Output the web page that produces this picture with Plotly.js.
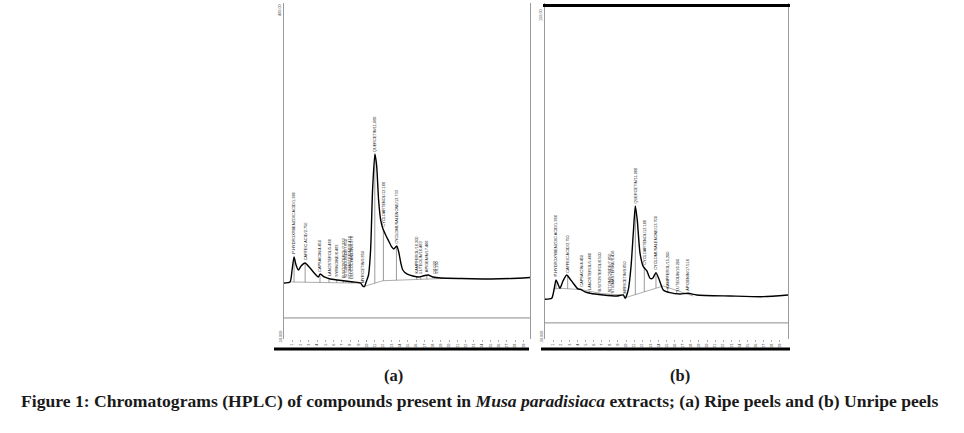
<!DOCTYPE html>
<html>
<head>
<meta charset="utf-8">
<script src="https://cdn.plot.ly/plotly-3.0.1.min.js"></script>
<style>
  html, body { margin: 0; padding: 0; background: #ffffff; }
  #chart { width: 964px; height: 433px; }
</style>
</head>
<body>
<div id="chart"></div>
<script>
// ---- data (time in min, detector response) ----
const ripeTime   = [0, 0.73, 0.98, 1.22, 1.46, 1.74, 2.07, 2.56, 3.05, 3.66, 4.15, 4.39, 4.88, 5.61, 6.46, 7.44, 8.41, 9.27, 9.55, 9.75, 9.95, 10.24, 10.49, 10.73, 11.01, 11.22, 11.46, 11.71, 11.95, 12.32, 12.68, 13.05, 13.29, 13.66, 13.9, 14.15, 14.39, 14.88, 15.61, 16.34, 16.83, 17.44, 18.05, 19.02, 21.46, 25.1, 27.56, 29.8];
const ripeSignal = [34.2, 35.5, 51.3, 68.4, 57.9, 51.3, 56.6, 60.5, 55.3, 47.4, 42.1, 46.1, 42.1, 39.5, 38.2, 36.8, 35.5, 34.2, 30, 29.5, 35.5, 44.7, 77.6, 156.6, 204, 189, 143.4, 117.1, 106.6, 97.4, 89.5, 81.6, 78.9, 82.9, 75, 60.5, 51.3, 46.1, 43.4, 42.1, 43.4, 44.7, 42.1, 40.8, 40.1, 39.5, 40.1, 41.4];
const ripeBaseTime  = [[0.9, 9.4], [9.6, 12.0, 20.1]];
const ripeBaseValue = [[35.5, 34.0], [29.3, 37.2, 40.4]];
const ripePeakName = ['P-HYDROXYBENZOIC ACID/1.366', 'CAFFEIC ACID/2.750', 'CAPSAICIN/4.450', 'LANOSTEROL/5.466', 'SYRINGINE/6.483',
  'B-SITOSTEROL/7.333', 'SITOINDOSIDE/7.850', 'STIGMASTERINE/8.416', 'LEUCOCYANIDIN/8.978', 'MYRICETIN/9.850', 'QUERCETIN/11.066',
  'CYCLOARTENOL/12.166', 'CYCLOMUSALENONE/13.733', 'KAMPFEROL/16.200', 'LUTEOLIN/16.483', 'APIGENIN/17.466', '/18.022', '/18.150'];
const ripePeakTime = [1.22, 2.56, 4.36, 5.45, 6.39, 7.19, 7.52, 7.84, 8.16, 9.6, 11.0, 12.04, 13.62, 16.08, 16.57, 17.3, 18.2, 18.5];

const unripeTime   = [0, 0.83, 1.11, 1.36, 1.6, 1.85, 2.22, 2.68, 3.09, 3.49, 4.07, 4.44, 4.94, 5.56, 7.2, 8.85, 9.67, 9.9, 10.28, 10.62, 10.9, 11.15, 11.39, 11.73, 12.14, 12.56, 12.96, 13.3, 13.7, 14.11, 14.6, 15.43, 16.67, 17.69, 18.73, 22.84, 26.95, 30];
const unripeSignal = [-4.82, -4.29, 0.09, 5.37, 3.26, 0.99, 4.84, 8.0, 5.9, 3.63, 0.62, 0.35, -0.97, -1.65, -2.55, -3.08, -2.55, -4.3, 0.09, 12.4, 30.0, 44.4, 37.0, 19.5, 12.4, 10.3, 6.27, 6.27, 9.22, 5.37, 0.09, -1.34, -2.02, -1.65, -2.55, -3.08, -3.45, -2.55];
const unripeBaseTime  = [[1.0, 1.85, 4.4, 7.0, 9.7], [9.9, 14.6, 18.3]];
const unripeBaseValue = [[0.5, 0.99, 0.3, -1.8, -2.6], [-4.0, 2.2, -3.1]];
const unripePeakName = ['P-HYDROXYBENZOIC ACID/1.366', 'CAFFEIC ACID/2.750', 'CAPSAICIN/4.450', 'LANOSTEROL/5.466', 'B-SITOSTEROL/6.500',
  'SITOINDOSIDE/7.850', 'STIGMASTERINE/8.416', 'MYRICETIN/9.850', 'QUERCETIN/11.066', 'CYCLOARTENOL/12.166', 'CYCLOMUSALENONE/13.700',
  'KAMPFEROL/15.200', 'LUTEOLIN/16.200', 'APIGENIN/17.516'];
const unripePeakTime = [1.36, 2.8, 4.4, 5.47, 6.67, 7.94, 8.27, 9.79, 11.15, 12.26, 13.7, 15.15, 16.26, 17.57];

const minuteTicks = [1, 2, 3, 4, 5, 6, 7, 8, 9, 10, 11, 12, 13, 14, 15, 16, 17, 18, 19, 20, 21, 22, 23, 24, 25, 26, 27, 28, 29];
const ripeRangeText = ['400.00', '-50.000'];
const unripeRangeText = ['150.00', '-30.000'];
const ripeRefLevel = -11.8;
const unripeRefLevel = -17.3;

// ---- helpers ----
function interp(xs, ys, t) {
  for (let i = 1; i < xs.length; i++) {
    if (t <= xs[i]) {
      const f = (t - xs[i - 1]) / (xs[i] - xs[i - 1]);
      return ys[i - 1] + f * (ys[i] - ys[i - 1]);
    }
  }
  return ys[ys.length - 1];
}

function baseAt(segT, segV, t) {
  for (let s = 0; s < segT.length; s++) {
    const xs = segT[s];
    if (t >= xs[0] && t <= xs[xs.length - 1]) return interp(xs, segV[s], t);
  }
  return null;
}

function panel(suffix, time, signal, baseT, baseV, peakT, peakN, offset) {
  const xa = 'x' + suffix, ya = 'y' + suffix;
  const traces = [];
  // integration baseline
  const bx = [], by = [];
  baseT.forEach((seg, s) => { seg.forEach((t, i) => { bx.push(t); by.push(baseV[s][i]); }); bx.push(null); by.push(null); });
  traces.push({ x: bx, y: by, xaxis: xa, yaxis: ya, type: 'scatter', mode: 'lines', line: { color: '#8a8a8a', width: 0.7 }, hoverinfo: 'skip', showlegend: false });
  // drop lines from peak to baseline
  const dx = [], dy = [];
  peakT.forEach(t => {
    const b = baseAt(baseT, baseV, t);
    if (b === null) return;
    dx.push(t, t, null); dy.push(interp(time, signal, t), b, null);
  });
  traces.push({ x: dx, y: dy, xaxis: xa, yaxis: ya, type: 'scatter', mode: 'lines', line: { color: '#6e6e6e', width: 0.7 }, hoverinfo: 'skip', showlegend: false });
  // chromatogram
  traces.push({ x: time, y: signal, xaxis: xa, yaxis: ya, type: 'scatter', mode: 'lines', line: { color: '#000000', width: 1.4, shape: 'spline', smoothing: 0.6 }, showlegend: false });
  const notes = peakT.map((t, i) => ({
    xref: xa, yref: ya, x: t, y: interp(time, signal, t) + offset,
    text: peakN[i], textangle: -90, showarrow: false, xanchor: 'center', yanchor: 'bottom',
    borderpad: 0, font: { family: 'Liberation Sans, Arial, sans-serif', size: 3.9, color: '#1a1a1a' }
  }));
  return { traces, notes };
}

const a = panel('', ripeTime, ripeSignal, ripeBaseTime, ripeBaseValue, ripePeakTime, ripePeakName, 2.5);
const b = panel('2', unripeTime, unripeSignal, unripeBaseTime, unripeBaseValue, unripePeakTime, unripePeakName, 1.0);

const W = 964, H = 433;
const px = v => v / W, py = v => 1 - v / H;

function xAxis(domain, range, anchor) {
  return {
    domain: domain, range: range, anchor: anchor, showgrid: false, zeroline: false, showline: false,
    tickvals: minuteTicks, ticktext: minuteTicks.map(String), tickangle: -90,
    ticks: 'outside', ticklen: 2, tickwidth: 0.6, tickcolor: '#777777',
    tickfont: { family: 'Liberation Sans, Arial, sans-serif', size: 3.8, color: '#444444' }
  };
}
function yAxis(range, anchor) {
  return {
    domain: [py(339), py(3)], range: range, anchor: anchor, showgrid: false, zeroline: false,
    showline: true, mirror: true, linecolor: '#9a9a9a', linewidth: 1, ticks: '', showticklabels: false
  };
}

const rangeFont = { family: 'Liberation Sans, Arial, sans-serif', size: 3.8, color: '#555555' };
const serif = 'Liberation Serif, Times New Roman, serif';
const annotations = a.notes.concat(b.notes).concat([
  { xref: 'paper', yref: 'paper', x: px(280), y: py(3), text: ripeRangeText[0], textangle: -90, showarrow: false, xanchor: 'center', yanchor: 'top', font: rangeFont, borderpad: 0 },
  { xref: 'paper', yref: 'paper', x: px(280), y: py(345), text: ripeRangeText[1], textangle: -90, showarrow: false, xanchor: 'center', yanchor: 'bottom', font: rangeFont, borderpad: 0 },
  { xref: 'paper', yref: 'paper', x: px(541), y: py(8), text: unripeRangeText[0], textangle: -90, showarrow: false, xanchor: 'center', yanchor: 'top', font: rangeFont, borderpad: 0 },
  { xref: 'paper', yref: 'paper', x: px(541), y: py(345), text: unripeRangeText[1], textangle: -90, showarrow: false, xanchor: 'center', yanchor: 'bottom', font: rangeFont, borderpad: 0 },
  { xref: 'paper', yref: 'paper', x: px(393), y: py(375), text: '<b>(a)</b>', showarrow: false, xanchor: 'center', yanchor: 'middle', font: { family: serif, size: 16.5, color: '#1a1a1a' } },
  { xref: 'paper', yref: 'paper', x: px(680), y: py(375), text: '<b>(b)</b>', showarrow: false, xanchor: 'center', yanchor: 'middle', font: { family: serif, size: 16.5, color: '#1a1a1a' } },
  { xref: 'paper', yref: 'paper', x: px(19), y: py(401), text: '<b>Figure 1: Chromatograms (HPLC) of compounds present in <i>Musa paradisiaca</i> extracts; (a) Ripe peels and (b) Unripe peels</b>',
    showarrow: false, xanchor: 'left', yanchor: 'middle', font: { family: serif, size: 17.6, color: '#1a1a1a' } }
]);

const shapes = [
  { type: 'line', xref: 'x domain', yref: 'y', x0: 0, x1: 1, y0: ripeRefLevel, y1: ripeRefLevel, line: { color: '#8a8a8a', width: 1 } },
  { type: 'line', xref: 'x2 domain', yref: 'y2', x0: 0, x1: 1, y0: unripeRefLevel, y1: unripeRefLevel, line: { color: '#8a8a8a', width: 1 } },
  // dark frame edges of the scanned panels
  { type: 'line', xref: 'paper', yref: 'paper', x0: px(274), x1: px(529), y0: py(349), y1: py(349), line: { color: '#000000', width: 3 } },
  { type: 'line', xref: 'paper', yref: 'paper', x0: px(541), x1: px(790), y0: py(349), y1: py(349), line: { color: '#000000', width: 3 } },
  { type: 'line', xref: 'paper', yref: 'paper', x0: px(543), x1: px(790), y0: py(5.5), y1: py(5.5), line: { color: '#000000', width: 3 } }
];

const layout = {
  width: W, height: H, margin: { l: 0, r: 0, t: 0, b: 0 },
  paper_bgcolor: '#ffffff', plot_bgcolor: '#ffffff', showlegend: false,
  xaxis: xAxis([px(284), px(530)], [0, 29.8], 'y'),
  yaxis: yAxis([-39.5, 402.6], 'x'),
  xaxis2: xAxis([px(545), px(788)], [0, 30], 'y2'),
  yaxis2: yAxis([-25.8, 151.6], 'x2'),
  annotations: annotations,
  shapes: shapes
};

Plotly.newPlot('chart', a.traces.concat(b.traces), layout, { displayModeBar: false, staticPlot: true });
</script>
</body>
</html>
